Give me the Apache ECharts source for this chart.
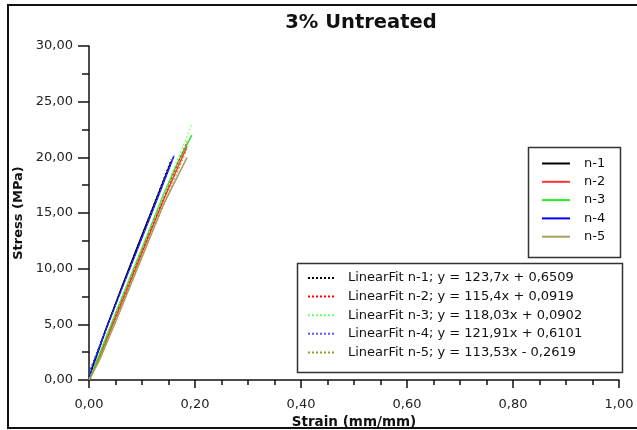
<!DOCTYPE html>
<html>
<head>
<meta charset="utf-8">
<script src="https://cdn.jsdelivr.net/npm/echarts@6/dist/echarts.min.js"></script>
<style>
  html, body { margin: 0; padding: 0; background: #fff; }
  #chart { width: 637px; height: 430px; }
</style>
</head>
<body>
<div id="chart"></div>
<script>
// 数据 (读自图片)
var xTickLabels = ['0,00', '0,20', '0,40', '0,60', '0,80', '1,00'];
var yTickLabels = ['0,00', '5,00', '10,00', '15,00', '20,00', '25,00', '30,00'];

var curveNames = ['n-1', 'n-2', 'n-3', 'n-4', 'n-5'];
var curveColors = ['#000000', '#ff3333', '#22ee22', '#0000ff', '#a8a060'];

// 原始曲线 [strain, stress]
var n1 = [[0, 0], [0.01, 1.6], [0.03, 4.3], [0.06, 8.1], [0.09, 11.8], [0.12, 15.4], [0.155, 19.6]];
var n2 = [[0, 0], [0.02, 2.1], [0.05, 5.6], [0.08, 9.1], [0.11, 12.6], [0.14, 16.1], [0.185, 21.0]];
var n3 = [[0, 0], [0.02, 2.3], [0.05, 6.0], [0.08, 9.5], [0.11, 13.0], [0.14, 16.6], [0.17, 19.8], [0.194, 22.0]];
var n4 = [[0, 0], [0.005, 1.0], [0.03, 4.3], [0.06, 8.0], [0.09, 11.6], [0.12, 15.2], [0.16, 20.1]];
var n5 = [[0, 0], [0.02, 1.8], [0.05, 5.2], [0.08, 8.7], [0.11, 12.2], [0.14, 15.7], [0.185, 20.0]];
var curves = [n1, n2, n3, n4, n5];

// 线性拟合 (端点)
var fitNames = [
    'LinearFit n-1; y = 123,7x + 0,6509',
    'LinearFit n-2; y = 115,4x + 0,0919',
    'LinearFit n-3; y = 118,03x + 0,0902',
    'LinearFit n-4; y = 121,91x + 0,6101',
    'LinearFit n-5; y = 113,53x - 0,2619'
];
var fitColors = ['#000000', '#ff0000', '#66ff66', '#5555ff', '#999933'];
var fit1 = [[0, 0.65], [0.155, 19.82]];
var fit2 = [[0, 0.09], [0.185, 21.44]];
var fit3 = [[0, 0.09], [0.194, 22.99]];
var fit4 = [[0, 0.61], [0.162, 20.36]];
var fit5 = [[0.003, 0.08], [0.185, 20.74]];
var fits = [fit1, fit2, fit3, fit4, fit5];

var myChart = echarts.init(document.getElementById('chart'));

var series = [];
for (var i = 0; i < curves.length; i++) {
    series.push({
        name: curveNames[i],
        type: 'line',
        data: curves[i],
        showSymbol: false,
        symbol: 'none',
        color: curveColors[i],
        lineStyle: { width: 1.5, color: curveColors[i] },
        silent: true
    });
}
for (var j = 0; j < fits.length; j++) {
    series.push({
        name: fitNames[j],
        type: 'line',
        data: fits[j],
        showSymbol: false,
        symbol: 'none',
        color: fitColors[j],
        lineStyle: { width: 1, type: [2, 2], color: fitColors[j] },
        silent: true
    });
}

var font = 'DejaVu Sans';

var option = {
    animation: false,
    backgroundColor: '#ffffff',
    graphic: [
        { type: 'rect', shape: { x: 8, y: 5, width: 640, height: 423 }, style: { fill: 'none', stroke: '#111', lineWidth: 2 }, silent: true },
        { type: 'rect', shape: { x: 528.5, y: 147.5, width: 92, height: 110 }, style: { fill: '#fff', stroke: '#333', lineWidth: 1.5 }, silent: true, z: 5 },
        { type: 'rect', shape: { x: 297.5, y: 263.5, width: 325, height: 109 }, style: { fill: '#fff', stroke: '#333', lineWidth: 1.5 }, silent: true, z: 5 },
        {
            type: 'text', x: 361, y: 23, z: 10,
            style: { text: '3% Untreated', font: 'bold 19.5px "DejaVu Sans"', fill: '#111', align: 'center', verticalAlign: 'middle' }
        }
    ],
    legend: [
        {
            data: curveNames,
            orient: 'vertical',
            left: 541,
            top: 157,
            itemWidth: 28,
            itemHeight: 14,
            itemGap: 5.3,
            selectedMode: false,
            padding: 0,
            z: 10,
            itemStyle: { opacity: 0 },
            textStyle: { fontFamily: font, fontSize: 13, color: '#111', padding: [0, 0, 0, 9] }
        },
        {
            data: fitNames,
            orient: 'vertical',
            left: 307,
            top: 271.5,
            itemWidth: 26,
            itemHeight: 14,
            itemGap: 5.6,
            selectedMode: false,
            padding: 0,
            z: 10,
            itemStyle: { opacity: 0 },
            textStyle: { fontFamily: font, fontSize: 13, color: '#111', padding: [0, 0, 0, 9] }
        }
    ],
    grid: { left: 89, right: 18, top: 46, bottom: 50, containLabel: false, outerBoundsMode: 'none' },
    xAxis: {
        type: 'value',
        min: 0,
        max: 1,
        interval: 0.2,
        name: 'Strain (mm/mm)',
        nameLocation: 'middle',
        nameGap: 29,
        nameTextStyle: { fontFamily: font, fontSize: 13.5, fontWeight: 'bold', color: '#111' },
        axisLine: { show: true, lineStyle: { color: '#111', width: 1.5 } },
        axisTick: { show: true, inside: false, length: 8, lineStyle: { color: '#111', width: 1.5 } },
        minorTick: { show: true, splitNumber: 4, length: 5, lineStyle: { color: '#111', width: 1.5 } },
        axisLabel: {
            fontFamily: font, fontSize: 13, color: '#222', margin: 18,
            formatter: function (v) { return xTickLabels[Math.round(v / 0.2)]; }
        },
        splitLine: { show: false }
    },
    yAxis: {
        type: 'value',
        min: 0,
        max: 30,
        interval: 5,
        name: 'Stress (MPa)',
        nameLocation: 'middle',
        nameGap: 57,
        nameTextStyle: { fontFamily: font, fontSize: 13, fontWeight: 'bold', color: '#111' },
        axisLine: { show: true, lineStyle: { color: '#111', width: 1.5 } },
        axisTick: { show: true, inside: false, length: 11, lineStyle: { color: '#111', width: 1.5 } },
        minorTick: { show: true, splitNumber: 2, length: 7, lineStyle: { color: '#111', width: 1.5 } },
        axisLabel: {
            fontFamily: font, fontSize: 13, color: '#222', margin: 16,
            formatter: function (v) { return yTickLabels[Math.round(v / 5)]; }
        },
        splitLine: { show: false }
    },
    series: series
};

myChart.setOption(option);
</script>
</body>
</html>
